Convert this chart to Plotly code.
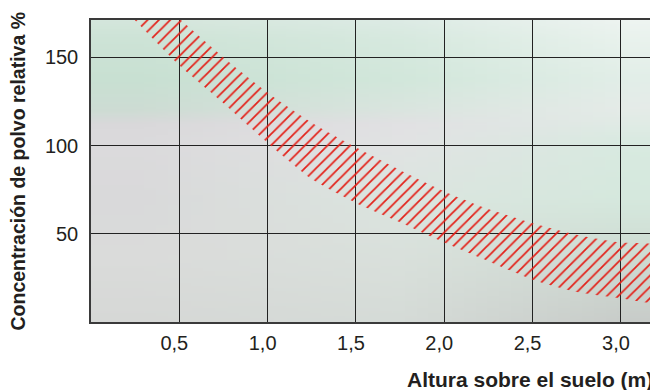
import zlib, struct, base64
import plotly.graph_objects as go

# ---- data ----
lower_x = [0.24, 0.5, 0.75, 1.0, 1.25, 1.5, 1.75, 2.0, 2.25, 2.5, 2.75, 3.0, 3.21]
lower_y = [172, 145.5, 124, 101.5, 81, 67.5, 56.5, 45, 34.5, 24, 17, 13.5, 11.5]
upper_x = [0.5, 0.75, 1.0, 1.25, 1.5, 1.75, 2.0, 2.25, 2.5, 2.75, 3.0, 3.21]
upper_y = [172, 150, 130, 113, 99, 86, 74, 64, 56, 49.5, 45, 43]

x_ticks = [0.5, 1.0, 1.5, 2.0, 2.5, 3.0]
x_ticktext = ["0,5", "1,0", "1,5", "2,0", "2,5", "3,0"]
y_ticks = [50, 100, 150]

x_title = "Altura sobre el suelo (m)"
y_title = "Concentración de polvo relativa %"

# ---- background gradient (style only) ----
row_t = [0, .063, .195, .295, .344, .411, .593, .791, 1.0]
col_f = [0.08, 0.55, 0.95]
profiles = [
    ["#d5e6dc", "#cde3d6", "#c8e0d2", "#cddcd3", "#d9d8da", "#dbdadc", "#d9d9da", "#dadbda", "#d6d8d6"],
    ["#ddebe5", "#d7e9df", "#d2e7db", "#dae5df", "#e1e1e3", "#e1e3e3", "#dbe5df", "#d9e0db", "#d5dbd7"],
    ["#eef4f1", "#e9f2ed", "#e2eee8", "#e5ebe8", "#e0ebe5", "#d8eae0", "#d5e8dd", "#cedbd2", "#c8ccc9"],
]

def hex2rgb(h):
    h = h.lstrip("#")
    return [int(h[i:i + 2], 16) for i in (0, 2, 4)]

prof_rgb = [[hex2rgb(c) for c in p] for p in profiles]

def interp(ts, vals, t):
    if t <= ts[0]:
        return vals[0]
    if t >= ts[-1]:
        return vals[-1]
    for i in range(len(ts) - 1):
        if ts[i] <= t <= ts[i + 1]:
            f = (t - ts[i]) / (ts[i + 1] - ts[i])
            return [a + (b - a) * f for a, b in zip(vals[i], vals[i + 1])]

W, H = 48, 120
rows = []
for j in range(H):
    t = (j + 0.5) / H
    cols_at_t = [interp(row_t, p, t) for p in prof_rgb]
    row = []
    for i in range(W):
        f = (i + 0.5) / W
        c = interp(col_f, cols_at_t, f)
        row.append(tuple(max(0, min(255, int(round(v)))) for v in c))
    rows.append(row)

def make_png(w, h, pix):
    raw = b"".join(b"\x00" + bytes([c for p in r for c in p]) for r in pix)
    def chunk(tag, data):
        return struct.pack(">I", len(data)) + tag + data + struct.pack(">I", zlib.crc32(tag + data) & 0xffffffff)
    return (b"\x89PNG\r\n\x1a\n" + chunk(b"IHDR", struct.pack(">IIBBBBB", w, h, 8, 2, 0, 0, 0))
            + chunk(b"IDAT", zlib.compress(raw)) + chunk(b"IEND", b""))

bg_src = "data:image/png;base64," + base64.b64encode(make_png(W, H, rows)).decode()

FONT = "Liberation Sans, Arial, Helvetica, sans-serif"
RED = "#e3221a"

fig = go.Figure()
fig.add_trace(go.Scatter(
    x=lower_x + upper_x[::-1],
    y=lower_y + upper_y[::-1],
    mode="lines",
    fill="toself",
    line=dict(width=0, shape="spline", smoothing=0.6),
    fillcolor="rgba(0,0,0,0)",
    fillpattern=dict(shape="/", fgcolor=RED, fgopacity=1, bgcolor="rgba(0,0,0,0)",
                     size=8, solidity=0.22),
    hoverinfo="skip",
    showlegend=False,
))

# page body adds an 8px offset; the figure is sized so the plot lands where the reference has it
fig.update_layout(
    width=650, height=382,
    margin=dict(l=83, r=0, t=12, b=68),
    paper_bgcolor="white",
    plot_bgcolor="rgba(0,0,0,0)",
    font=dict(family=FONT, size=20, color="#231f20"),
    showlegend=False,
    images=[dict(source=bg_src, xref="paper", yref="paper", x=0, y=1, sizex=1, sizey=1,
                 xanchor="left", yanchor="top", sizing="stretch", layer="below")],
    xaxis=dict(range=[0, 3.21], tickvals=x_ticks, ticktext=x_ticktext,
               showgrid=True, gridcolor="#222222", gridwidth=1,
               showline=True, linecolor="#3a3a3a", linewidth=1.5, mirror=True,
               ticks="outside", ticklen=2, tickcolor="rgba(0,0,0,0)",
               ticklabelshift=-5, zeroline=False, fixedrange=True),
    yaxis=dict(range=[0, 171.2], tickvals=y_ticks,
               showgrid=True, gridcolor="#222222", gridwidth=1,
               showline=True, linecolor="#3a3a3a", linewidth=1.5, mirror=False,
               ticks="outside", ticklen=7, tickcolor="rgba(0,0,0,0)",
               zeroline=False, fixedrange=True),
    annotations=[
        dict(text=x_title, xref="paper", yref="paper", x=0.994, y=-0.19,
             xanchor="right", yanchor="middle", showarrow=False,
             font=dict(family=FONT, size=21, color="#231f20", weight="bold")),
        dict(text=y_title, xref="paper", yref="paper", x=-0.1296, y=0.50,
             xanchor="center", yanchor="middle", textangle=-90, showarrow=False,
             font=dict(family=FONT, size=19.5, color="#231f20", weight="bold")),
    ],
)

fig.write_html("out.html")
